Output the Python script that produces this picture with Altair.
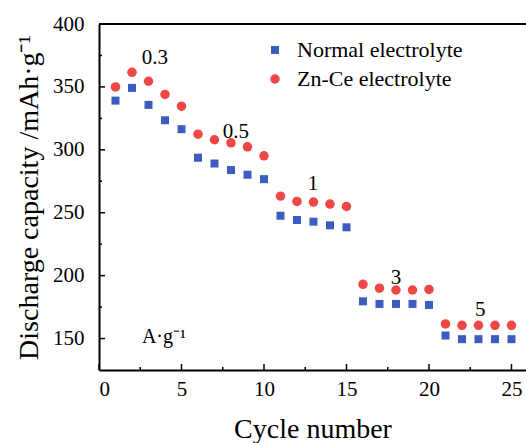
import altair as alt
import pandas as pd

# Rate-capability test: discharge capacity per cycle for two electrolytes
cycles = list(range(1, 26))
normal = [339.1, 349.2, 335.7, 323.5, 316.4,
          293.7, 289.1, 283.9, 280.2, 276.7,
          247.6, 244.2, 242.9, 240.0, 238.4,
          179.6, 177.5, 177.5, 177.5, 176.7,
          152.4, 149.5, 149.5, 149.5, 149.5]
znce = [350.0, 361.6, 354.5, 344.0, 334.7,
        312.4, 308.0, 305.6, 302.4, 295.2,
        263.2, 259.0, 258.5, 256.9, 255.0,
        193.1, 190.0, 188.6, 188.6, 189.0,
        161.6, 160.5, 160.5, 160.5, 160.5]
series_names = ["Normal electrolyte", "Zn-Ce electrolyte"]

# Current-density labels (A/g) placed over each group of cycles
rate_labels = ["0.3", "0.5", "1", "3", "5"]
rate_x = [3.39, 8.3, 12.97, 18.0, 23.1]
rate_y = [373.0, 314.3, 272.6, 198.4, 173.0]
unit_label = "A·g⁻¹"
unit_x = [2.6]
unit_y = [146.8]

x_ticks = [0, 5, 10, 15, 20, 25]
x_minor = [2.5, 7.5, 12.5, 17.5, 22.5]
y_ticks = [150, 200, 250, 300, 350, 400]
y_minor = [175, 225, 275, 325, 375]

W, H = 427, 346
FONT = "Liberation Serif"
BLUE = "#3d5cbf"
RED = "#ef4646"

xs = alt.Scale(domain=[0, 25.88], nice=False, zero=False)
ys = alt.Scale(domain=[125, 400], nice=False, zero=False)

df = pd.DataFrame({
    "cycle": cycles * 2,
    "capacity": normal + znce,
    "series": [series_names[0]] * len(cycles) + [series_names[1]] * len(cycles),
})

x_axis = alt.Axis(values=x_ticks, title="Cycle number", ticks=False, grid=False,
                  domainColor="black", domainWidth=2, labelFont=FONT, labelFontSize=21,
                  labelColor="black", labelPadding=8, titleFont=FONT, titleFontSize=28,
                  titleFontWeight="normal", titleColor="black", titleBaseline="alphabetic",
                  titleY=67)
y_axis = alt.Axis(values=y_ticks, title="Discharge capacity /mAh·g⁻¹", ticks=False, grid=False,
                  domainColor="black", domainWidth=2, labelFont=FONT, labelFontSize=21,
                  labelColor="black", labelPadding=15, titleFont=FONT, titleFontSize=28,
                  titleFontWeight="normal", titleColor="black", titleBaseline="alphabetic",
                  titleX=-62, titleY=H / 2, titleAlign="center", titleAngle=270)

legend = alt.Legend(title=None, orient="none", legendX=165, legendY=15,
                    labelFont=FONT, labelFontSize=22, labelColor="black", labelLimit=0,
                    symbolSize=50, labelOffset=11, rowPadding=7, padding=0)

points = alt.Chart(df).mark_point(filled=True, opacity=1, strokeWidth=0).encode(
    x=alt.X("cycle:Q", scale=xs, axis=x_axis),
    y=alt.Y("capacity:Q", scale=ys, axis=y_axis),
    color=alt.Color("series:N", scale=alt.Scale(domain=series_names, range=[BLUE, RED]),
                    legend=legend),
    shape=alt.Shape("series:N", scale=alt.Scale(domain=series_names, range=["square", "circle"]),
                    legend=legend),
    size=alt.Size("series:N", scale=alt.Scale(domain=series_names, range=[64, 90]), legend=None),
)

# Inward-pointing axis ticks
x_major = alt.Chart(pd.DataFrame({"cycle": x_ticks})).mark_rule(color="black", strokeWidth=1.5).encode(
    x=alt.X("cycle:Q", scale=xs, axis=x_axis), y=alt.value(H), y2=alt.value(H - 6))
x_min = alt.Chart(pd.DataFrame({"cycle": x_minor})).mark_rule(color="black", strokeWidth=1.5).encode(
    x=alt.X("cycle:Q", scale=xs, axis=x_axis), y=alt.value(H), y2=alt.value(H - 3))
y_major = alt.Chart(pd.DataFrame({"capacity": y_ticks})).mark_rule(color="black", strokeWidth=1.5).encode(
    y=alt.Y("capacity:Q", scale=ys, axis=y_axis), x=alt.value(0), x2=alt.value(6))
y_min = alt.Chart(pd.DataFrame({"capacity": y_minor})).mark_rule(color="black", strokeWidth=1.5).encode(
    y=alt.Y("capacity:Q", scale=ys, axis=y_axis), x=alt.value(0), x2=alt.value(3))

# Top frame line
frame = alt.Chart(pd.DataFrame({"k": [0]})).mark_rule(color="black", strokeWidth=2).encode(
    x=alt.value(0), x2=alt.value(W), y=alt.value(0))

rates = alt.Chart(pd.DataFrame({"cycle": rate_x, "capacity": rate_y, "label": rate_labels})).mark_text(
    font=FONT, fontSize=21, color="black", align="center", baseline="middle").encode(
    x=alt.X("cycle:Q", scale=xs, axis=x_axis), y=alt.Y("capacity:Q", scale=ys, axis=y_axis),
    text="label:N")

unit = alt.Chart(pd.DataFrame({"cycle": unit_x, "capacity": unit_y, "label": [unit_label]})).mark_text(
    font=FONT, fontSize=20, color="black", align="left", baseline="alphabetic").encode(
    x=alt.X("cycle:Q", scale=xs, axis=x_axis), y=alt.Y("capacity:Q", scale=ys, axis=y_axis),
    text="label:N")

chart = alt.layer(points, x_major, x_min, y_major, y_min, frame, rates, unit).properties(
    width=W, height=H,
    autosize=alt.AutoSizeParams(type="none"),
    padding={"left": 99, "top": 24, "right": 0, "bottom": 73},
    background="white",
).configure_view(stroke=None)

chart.save("out.html", embed_options={"renderer": "svg", "actions": False})
